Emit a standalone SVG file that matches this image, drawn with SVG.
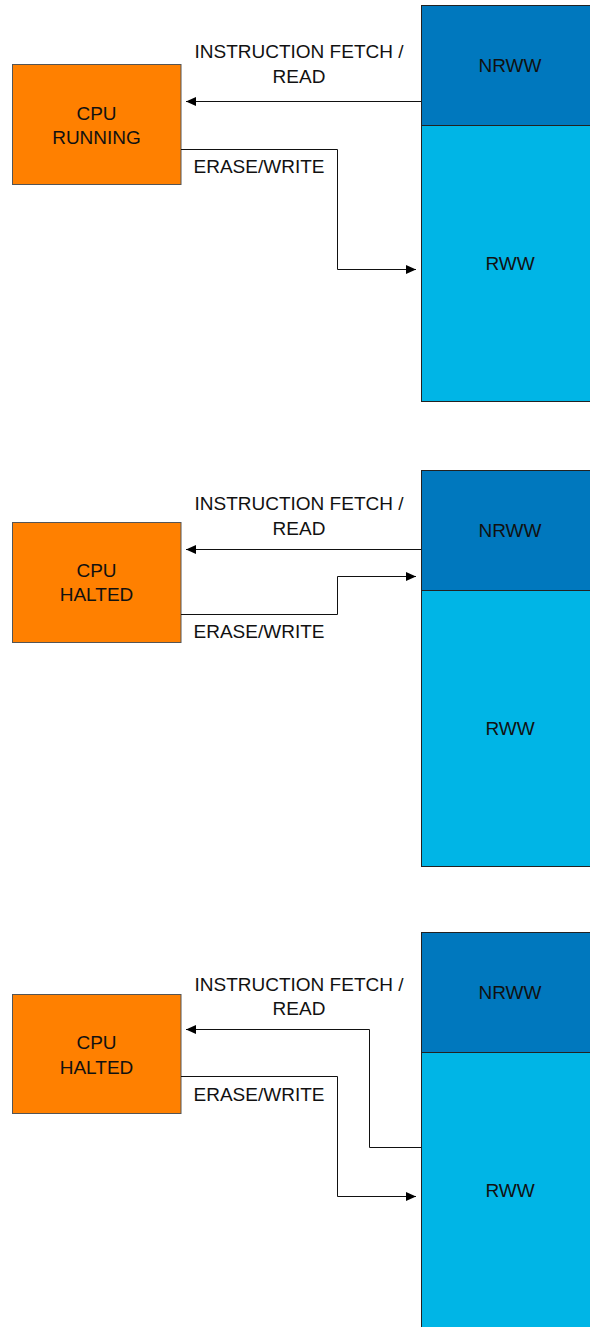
<svg xmlns="http://www.w3.org/2000/svg" width="590" height="1327" viewBox="0 0 590 1327">
<style>
text{font-family:"Liberation Sans",Arial,sans-serif;font-size:19px;fill:#111}
.c{text-anchor:middle}
.cpu{fill:#FF8000;stroke:#555;stroke-width:1}
.nrww{fill:#0078BE;stroke:#222;stroke-width:1}
.rww{fill:#00B5E6;stroke:#222;stroke-width:1}
.ln{fill:none;stroke:#111;stroke-width:1}
</style>
<defs>
<marker id="ah" markerWidth="10" markerHeight="10" refX="10" refY="5" orient="auto" markerUnits="userSpaceOnUse">
<path d="M0,0.5 L10,5 L0,9.5 Z" fill="#000"/>
</marker>
</defs>
<rect width="590" height="1327" fill="#fff"/>

<!-- Section 1 -->
<g id="mem1">
<rect class="rww" x="421.5" y="125.5" width="180" height="276"/>
<rect class="nrww" x="421.5" y="5.5" width="180" height="120"/>
<text class="c" x="510" y="71.5">NRWW</text>
<text class="c" x="510" y="269.5">RWW</text>
</g>
<g id="cpu1">
<rect class="cpu" x="12.5" y="64.5" width="168.5" height="120"/>
<text class="c" x="96.5" y="120">CPU</text>
<text class="c" x="96.5" y="144">RUNNING</text>
</g>

<!-- Section 2 -->
<g id="mem2">
<rect class="rww" x="421.5" y="590.5" width="180" height="276"/>
<rect class="nrww" x="421.5" y="470.5" width="180" height="120"/>
<text class="c" x="510" y="537">NRWW</text>
<text class="c" x="510" y="735">RWW</text>
</g>
<g id="cpu2">
<rect class="cpu" x="12.5" y="522.5" width="168.5" height="120"/>
<text class="c" x="96.5" y="577">CPU</text>
<text class="c" x="96.5" y="601">HALTED</text>
</g>

<!-- Section 3 -->
<g id="mem3">
<rect class="rww" x="421.5" y="1052.5" width="180" height="290"/>
<rect class="nrww" x="421.5" y="932.5" width="180" height="120"/>
<text class="c" x="510" y="999">NRWW</text>
<text class="c" x="510" y="1197">RWW</text>
</g>
<g id="cpu3">
<rect class="cpu" x="12.5" y="994.5" width="168.5" height="119"/>
<text class="c" x="96.5" y="1049">CPU</text>
<text class="c" x="96.5" y="1074">HALTED</text>
</g>

<g id="connectors">
<path class="ln" d="M421,101.5 H186" marker-end="url(#ah)"/>
<path class="ln" d="M181,149.5 H337.5 V269.5 H416" marker-end="url(#ah)"/>
<path class="ln" d="M421,549.5 H186" marker-end="url(#ah)"/>
<path class="ln" d="M181,614.5 H337.5 V576.5 H416" marker-end="url(#ah)"/>
<path class="ln" d="M421,1147.5 H369.5 V1029.5 H186" marker-end="url(#ah)"/>
<path class="ln" d="M181,1076.5 H337.5 V1196.5 H416" marker-end="url(#ah)"/>
</g>

<g id="labels">
<text class="c" x="299" y="58">INSTRUCTION FETCH /</text>
<text class="c" x="299" y="82.5">READ</text>
<text class="c" x="259" y="172.5">ERASE/WRITE</text>
<text class="c" x="299" y="510">INSTRUCTION FETCH /</text>
<text class="c" x="299" y="535">READ</text>
<text class="c" x="259" y="638">ERASE/WRITE</text>
<text class="c" x="299" y="990.5">INSTRUCTION FETCH /</text>
<text class="c" x="299" y="1015">READ</text>
<text class="c" x="259" y="1100.5">ERASE/WRITE</text>
</g>
</svg>
